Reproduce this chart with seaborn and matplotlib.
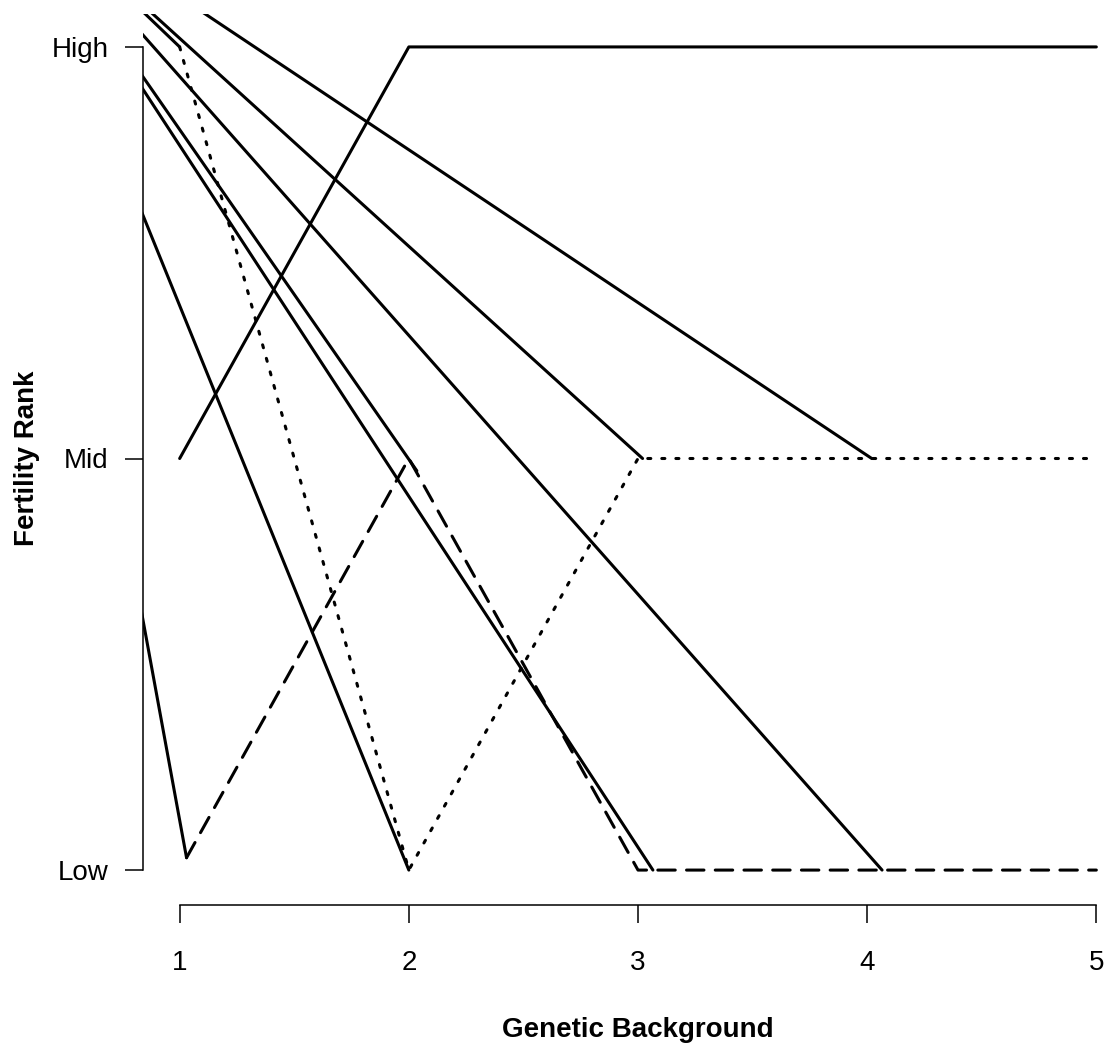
import pandas as pd
import matplotlib
matplotlib.use('Agg')
import matplotlib.pyplot as plt
import seaborn as sns

sns.set_style('white')
plt.rcParams['font.family'] = ['Liberation Sans', 'DejaVu Sans']
plt.rcParams['text.color'] = 'black'
plt.rcParams['axes.labelcolor'] = 'black'

# common starting point of the rays (lies left of / above the plot region)
origin_x = 0.25
origin_y = 3.4

# end points of the solid rays
ray_x = [1.0, 1.03, 2.0, 2.035, 3.065, 3.02, 4.02, 4.065]
ray_y = [3.0, 1.03, 1.0, 1.97, 1.0, 2.0, 2.0, 1.0]

# trajectories across the genetic backgrounds
bg_x = [1, 2, 3, 4, 5]
solid_y = [2, 3, 3, 3, 3]
dotted_y = [3, 1, 2, 2, 2]
dashed_x = [1.03, 2, 3, 4, 5]
dashed_y = [1.03, 2, 1, 1, 1]

rank_ticks = [1, 2, 3]
rank_labels = ['Low', 'Mid', 'High']
bg_labels = ['1', '2', '3', '4', '5']

# long form table for seaborn
rows = []
for i, (ex, ey) in enumerate(zip(ray_x, ray_y)):
    rows.append({'x': origin_x, 'y': origin_y, 'unit': 'ray%d' % i, 'lty': 'solid'})
    rows.append({'x': ex, 'y': ey, 'unit': 'ray%d' % i, 'lty': 'solid'})
for x, y in zip(bg_x, solid_y):
    rows.append({'x': x, 'y': y, 'unit': 'p_solid', 'lty': 'solid'})
for x, y in zip(bg_x, dotted_y):
    rows.append({'x': x, 'y': y, 'unit': 'p_dotted', 'lty': 'dotted'})
for x, y in zip(dashed_x, dashed_y):
    rows.append({'x': x, 'y': y, 'unit': 'p_dashed', 'lty': 'dashed'})
df = pd.DataFrame(rows)

fig = plt.figure(figsize=(11.11, 10.5), dpi=100)
ax = fig.add_axes([143 / 1111, 147 / 1050, 990 / 1111, 889 / 1050])

sns.lineplot(data=df, x='x', y='y', units='unit', style='lty', estimator=None,
             sort=False, color='black', lw=2.2, legend=False, ax=ax,
             dashes={'solid': '', 'dashed': (5.7, 3.7), 'dotted': (1, 3.6)},
             solid_capstyle='round', dash_capstyle='round')

ax.set_xlim(0.84, 5.16)
ax.set_ylim(0.92, 3.08)

# R style detached axes
ax.spines['top'].set_visible(False)
ax.spines['right'].set_visible(False)
ax.spines['left'].set_bounds(1, 3)
ax.spines['bottom'].set_bounds(1, 5)
ax.spines['bottom'].set_position(('outward', 1.5))
for s in ['left', 'bottom']:
    ax.spines[s].set_color('black')
    ax.spines[s].set_linewidth(1.1)

ax.set_xticks(bg_x, bg_labels)
ax.set_yticks(rank_ticks, rank_labels)
ax.tick_params(axis='both', bottom=True, left=True, direction='out', length=13,
               width=1.1, color='black', labelsize=20, labelcolor='black')
ax.tick_params(axis='x', pad=19)
ax.tick_params(axis='y', pad=12)

ax.set_xlabel('Genetic Background', fontsize=20, fontweight='bold', labelpad=30)
ax.set_ylabel('Fertility Rank', fontsize=20, fontweight='bold', labelpad=8)

fig.savefig('out.png', dpi=100)
